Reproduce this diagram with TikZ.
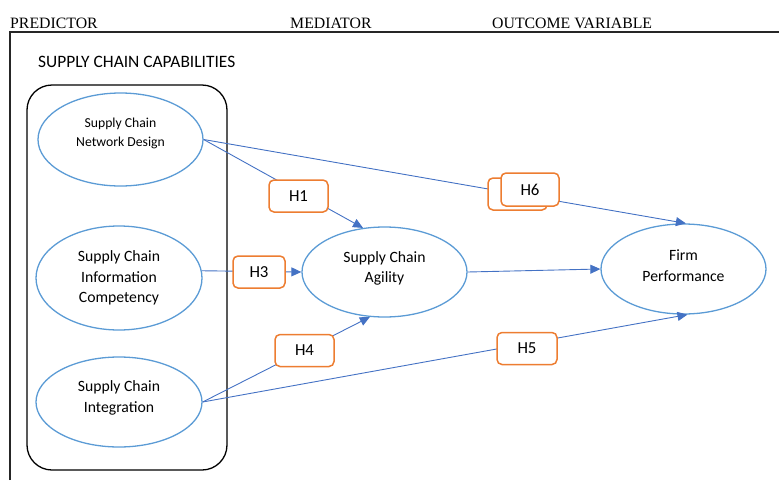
\documentclass[tikz,border=0pt]{standalone}
\usepackage{fontspec}
\setmainfont{Carlito}
\newfontfamily\hdrfont{Liberation Serif}
\usetikzlibrary{shapes.geometric,arrows.meta}
\definecolor{ellblue}{HTML}{5B9BD5}
\definecolor{arrblue}{HTML}{4472C4}
\definecolor{hor}{HTML}{ED7D31}
\definecolor{frame}{HTML}{262626}
\begin{document}
\begin{tikzpicture}[x=1pt,y=-1pt,
  ell/.style={draw=ellblue, line width=1.3pt, ellipse, inner sep=0pt},
  etxt/.style={align=center, inner sep=0pt, font=\fontsize{15.7}{20.5}\selectfont},
  hyp/.style={draw=hor, line width=1.5pt, rounded corners=5pt, fill=white,
              minimum width=59pt, minimum height=32pt, inner sep=0pt,
              font=\fontsize{16.8}{20}\selectfont},
  conn/.style={draw=arrblue, line width=0.9pt, -{Triangle[length=10pt,width=9pt]}},
  hdr/.style={anchor=base west, inner sep=0pt, font=\hdrfont\fontsize{15.8}{18}\selectfont}]
\useasboundingbox (0,0) rectangle (779,480);

% headers and frame
\node[hdr] (hpred) at (10,28) {PREDICTOR};
\node[hdr] (hmed) at (290,28) {MEDIATOR};
\node[hdr] (hout) at (492,28) {OUTCOME VARIABLE};
\draw[frame, line width=1.6pt] (10,480) -- (10,32) -- (779,32);
\node[anchor=base west, inner sep=0pt, font=\fontsize{17.4}{20}\selectfont] (scclabel) at (38,67) {SUPPLY CHAIN CAPABILITIES};

% capabilities group box
\node[draw=black, line width=1.3pt, rounded corners=25pt, minimum width=200pt,
      minimum height=385pt, inner sep=0pt] (scc) at (127,277.5) {};

% ellipses
\node[ell, minimum width=165pt, minimum height=93pt] (scnd) at (120.5,139.5) {};
\node[etxt, font=\fontsize{13.7}{18.5}\selectfont] (scndt) at (120.5,133.5) {Supply Chain\\Network Design};
\node[ell, minimum width=166pt, minimum height=104pt] (scic) at (119,278) {};
\node[etxt] (scict) at (119,278) {Supply Chain\\Information\\Competency};
\node[ell, minimum width=166pt, minimum height=90pt] (sci) at (119,402) {};
\node[etxt] (scit) at (119,398) {Supply Chain\\Integration};
\node[ell, minimum width=165pt, minimum height=90pt] (sca) at (384.5,272) {};
\node[etxt] (scat) at (384.5,268.5) {Supply Chain\\Agility};
\node[ell, minimum width=165pt, minimum height=90pt] (fp) at (683.5,269) {};
\node[etxt] (fpt) at (683.5,265.5) {Firm\\Performance};

% connectors
\draw[conn] (scnd.east) -- (sca.116);
\draw[conn] (scnd.east) -- (fp.87);
\draw[conn] (scic.5) -- (sca.west);
\draw[conn] (sca.east) -- (fp.west);
\draw[conn] (sci.east) -- (sca.252);
\draw[conn] (sci.east) -- (fp.275);

% hypothesis labels
\node[hyp] (h1) at (298.5,196) {H1};
\node[hyp, minimum width=52pt] (h3) at (259,272) {H3};
\node[hyp] (h4) at (304.5,350.5) {H4};
\node[hyp, minimum width=60pt] (h5) at (527,348.5) {H5};
\node[hyp] (h6b) at (517.5,194) {};
\node[hyp, minimum width=58pt, minimum height=33pt] (h6) at (530,189.5) {H6};
\end{tikzpicture}
\end{document}
